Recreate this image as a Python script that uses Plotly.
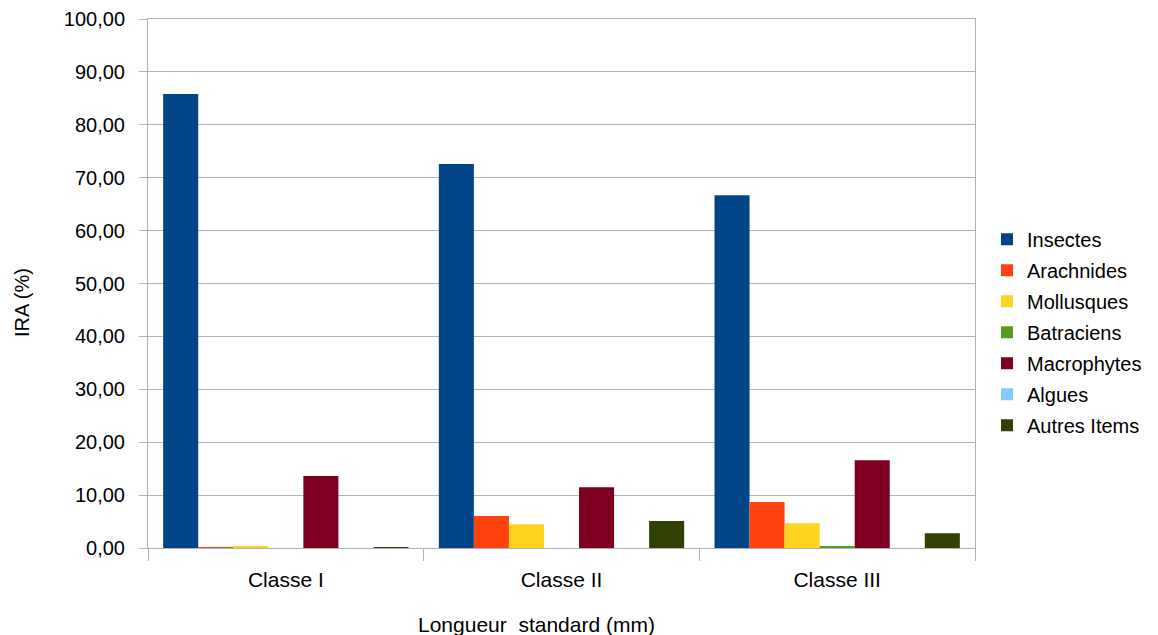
import plotly.graph_objects as go

categories = ["Classe I", "Classe II", "Classe III"]
series_names = ["Insectes", "Arachnides", "Mollusques", "Batraciens", "Macrophytes", "Algues", "Autres Items"]
insectes = [85.8, 72.6, 66.7]
arachnides = [0.15, 6.05, 8.7]
mollusques = [0.3, 4.5, 4.7]
batraciens = [0.0, 0.0, 0.3]
macrophytes = [13.6, 11.5, 16.6]
algues = [0.0, 0.0, 0.0]
autres_items = [0.15, 5.1, 2.8]
colors = ["#004586", "#ff420e", "#ffd320", "#579d1c", "#7e0021", "#83caff", "#314004"]
y_ticks = [0, 10, 20, 30, 40, 50, 60, 70, 80, 90, 100]

series_values = [insectes, arachnides, mollusques, batraciens, macrophytes, algues, autres_items]

FONT = "Liberation Sans, Arial, sans-serif"
GRID = "#b3b3b3"

fig = go.Figure()
for i, (name, vals) in enumerate(zip(series_names, series_values)):
    fig.add_trace(go.Bar(
        x=categories, y=vals, name=name,
        marker=dict(color=colors[i], line=dict(width=0)),
        legendgroup=name,
    ))

fig.update_layout(
    width=1158, height=635,
    margin=dict(l=148, r=183, t=19, b=87, autoexpand=False),
    paper_bgcolor="white", plot_bgcolor="white",
    barmode="group", bargap=0.11, bargroupgap=0,
    separators=",.",
    font=dict(family=FONT, size=20, color="#000000"),
    showlegend=True,
    legend=dict(
        x=1.0145, xanchor="left", y=0.408, yanchor="middle",
        font=dict(family=FONT, size=20, color="#000000"),
        tracegroupgap=2, itemclick=False, bgcolor="rgba(0,0,0,0)",
    ),
    xaxis=dict(
        type="category", tickson="boundaries", ticks="outside", ticklen=12,
        tickcolor=GRID, tickwidth=1, showline=True, linecolor=GRID, linewidth=1,
        mirror=True, showgrid=False, ticklabelstandoff=13, automargin=False,
        tickfont=dict(family=FONT, size=21, color="#000000"),
    ),
    yaxis=dict(
        range=[0, 100], tickvals=y_ticks, tickformat=".2f",
        ticks="outside", ticklen=8, tickcolor=GRID, tickwidth=1,
        showline=True, linecolor=GRID, linewidth=1, mirror=True,
        showgrid=True, gridcolor=GRID, gridwidth=1, zeroline=False,
        ticklabelstandoff=10, automargin=False,
        tickfont=dict(family=FONT, size=20, color="#000000"),
    ),
    annotations=[
        dict(text="IRA (%)", textangle=-90, x=(22 - 148) / 827, xref="paper", xanchor="center",
             y=0.465, yref="paper", yanchor="middle", showarrow=False,
             font=dict(family=FONT, size=20, color="#000000")),
        dict(text="Longueur\u00a0 standard (mm)", x=0.47, xref="paper", xanchor="center",
             y=-0.1437, yref="paper", yanchor="middle", showarrow=False,
             font=dict(family=FONT, size=21, color="#000000")),
    ],
)

fig.write_html("out.html")
